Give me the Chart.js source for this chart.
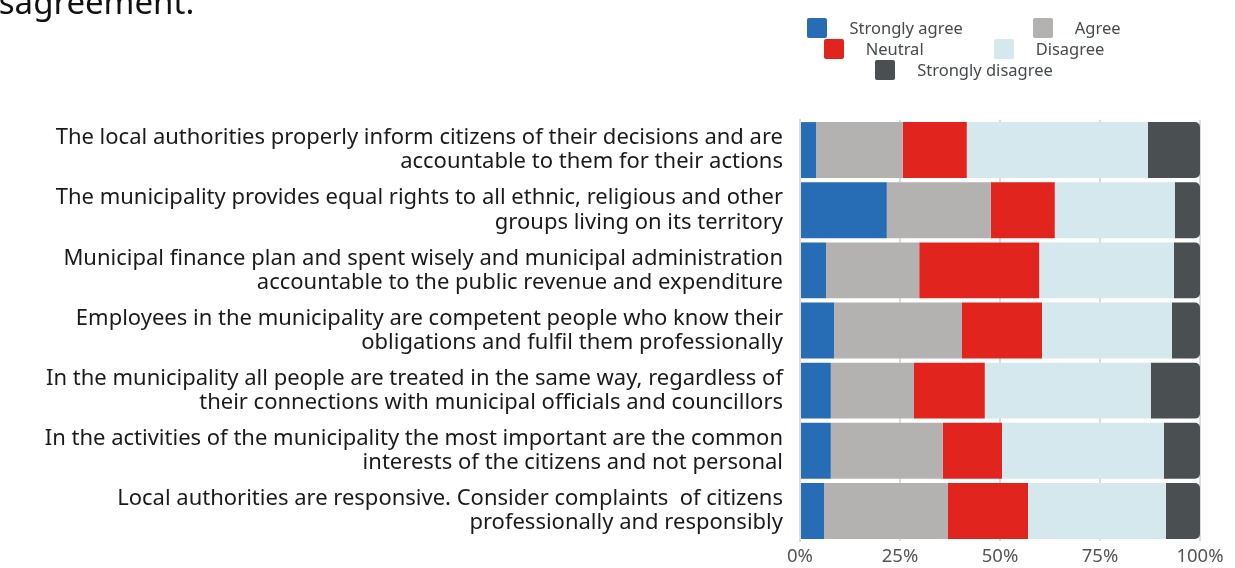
<!DOCTYPE html>
<html>
<head>
<meta charset="utf-8">
<script src="https://cdn.jsdelivr.net/npm/chart.js@4"></script>
<style>
    html, body { margin: 0; padding: 0; background: #fff; overflow: hidden; }
    #wrap { position: relative; width: 1235px; height: 568px; }
    #title {
        position: absolute; left: -30px; top: -21px;
        font-family: "Noto Sans", sans-serif; font-size: 33px; color: #111; white-space: nowrap;
    }
    #legend {
        position: absolute; left: 764px; top: 17px; width: 400px;
        font-family: "Noto Sans", sans-serif; font-size: 16.5px; color: #454a4d;
    }
    .legend-row { display: flex; justify-content: center; height: 21px; }
    .legend-item { display: flex; align-items: center; margin: 0 35px; }
    .legend-box { width: 20px; height: 20px; border-radius: 2px; margin-right: 22px; }
</style>
</head>
<body>
<div id="wrap">
    <div id="title">disagreement.</div>
    <div id="legend"></div>
    <canvas id="agreementChart" width="1235" height="568"></canvas>
</div>
<script>
// Statements (two lines each)
var categories = [
    ['The local authorities properly inform citizens of their decisions and are', 'accountable to them for their actions'],
    ['The municipality provides equal rights to all ethnic, religious and other', 'groups living on its territory'],
    ['Municipal finance plan and spent wisely and municipal administration', 'accountable to the public revenue and expenditure'],
    ['Employees in the municipality are competent people who know their', 'obligations and fulfil them professionally'],
    ['In the municipality all people are treated in the same way, regardless of', 'their connections with municipal officials and councillors'],
    ['In the activities of the municipality the most important are the common', 'interests of the citizens and not personal'],
    ['Local authorities are responsive. Consider complaints  of citizens', 'professionally and responsibly']
];

// Shares in percent
var stronglyAgree    = [4, 21.7, 6.5, 8.5, 7.7, 7.7, 6];
var agree            = [21.7, 26, 23.3, 32, 20.8, 28, 31];
var neutral          = [16, 16, 30, 20, 17.7, 14.8, 20];
var disagree         = [45.3, 30, 33.7, 32.5, 41.5, 40.5, 34.5];
var stronglyDisagree = [13, 6.3, 6.5, 7, 12.3, 9, 8.5];

var tickValues = [0, 25, 50, 75, 100];

var datasets = [
    { label: 'Strongly agree', data: stronglyAgree, backgroundColor: '#266db5' },
    { label: 'Agree', data: agree, backgroundColor: '#b3b2b1' },
    { label: 'Neutral', data: neutral, backgroundColor: '#e1251e' },
    { label: 'Disagree', data: disagree, backgroundColor: '#d4e8ee' },
    { label: 'Strongly disagree', data: stronglyDisagree, backgroundColor: '#4a5052',
      borderRadius: 5, borderSkipped: 'start' }
];
datasets.forEach(function (ds) {
    ds.barPercentage = 0.93;
    ds.categoryPercentage = 1;
});

var ctx = document.getElementById('agreementChart').getContext('2d');
var agreementChart = new Chart(ctx, {
    type: 'bar',
    data: { labels: categories, datasets: datasets },
    options: {
        indexAxis: 'y',
        responsive: false,
        animation: false,
        layout: { padding: { top: 120, right: 35, bottom: 0, left: 0 } },
        plugins: {
            legend: { display: false },
            tooltip: { enabled: false }
        },
        scales: {
            x: {
                stacked: true,
                min: 0,
                max: 100,
                afterBuildTicks: function (scale) {
                    scale.ticks = tickValues.map(function (v) { return { value: v }; });
                },
                afterFit: function (scale) { scale.height = 27; },
                ticks: {
                    callback: function (v) { return v + '%'; },
                    color: '#555',
                    font: { family: 'Noto Sans', size: 18.5 },
                    padding: 5
                },
                grid: { color: '#dcdcdc', lineWidth: 2, drawTicks: false },
                border: { display: false }
            },
            y: {
                stacked: true,
                afterFit: function (scale) {
                    scale.width = 800;
                    // two-line labels would otherwise push the plot up from the bottom
                    scale.paddingTop = 0;
                    scale.paddingBottom = 0;
                },
                ticks: {
                    color: '#1a1a1a',
                    font: { family: 'Noto Sans', size: 22, lineHeight: 1.1 },
                    padding: 9
                },
                grid: { display: false },
                border: { display: true, color: '#dcdcdc', width: 2 }
            }
        }
    }
});

// Legend built from the datasets, laid out in rows like the original
var legendRows = [[0, 1], [2, 3], [4]];
var legendEl = document.getElementById('legend');
legendRows.forEach(function (row) {
    var rowEl = document.createElement('div');
    rowEl.className = 'legend-row';
    row.forEach(function (i) {
        var item = document.createElement('div');
        item.className = 'legend-item';
        item.innerHTML = '<span class="legend-box" style="background:' + datasets[i].backgroundColor + '"></span>' + datasets[i].label;
        rowEl.appendChild(item);
    });
    legendEl.appendChild(rowEl);
});
</script>
</body>
</html>
